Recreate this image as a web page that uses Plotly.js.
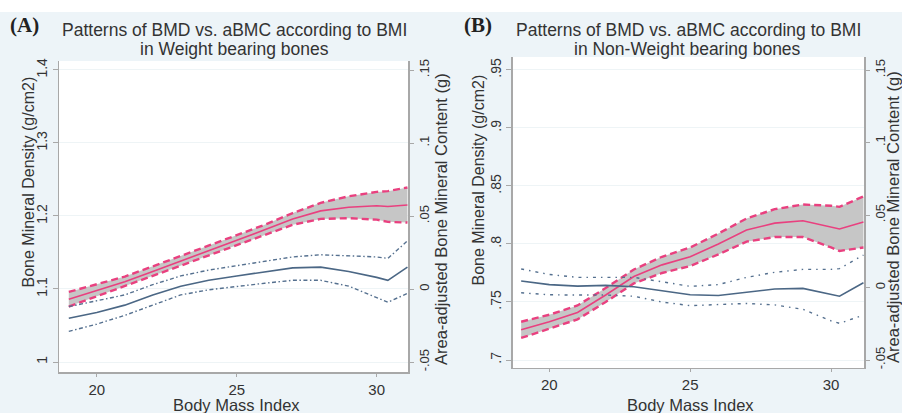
<!DOCTYPE html>
<html>
<head>
<meta charset="utf-8">
<script src="https://cdn.plot.ly/plotly-3.0.1.min.js"></script>
<style>html,body{margin:0;padding:0;background:#edf4f8;}#chart{width:902px;height:413px;}</style>
</head>
<body>
<div id="chart"></div>
<script>
// Shared BMI grid (x values)
const bmiA = [19, 20, 21, 22, 23, 24, 25, 26, 27, 28, 29, 30, 30.4, 31.1];
const bmiB = [19, 20, 21, 22, 23, 24, 25, 26, 27, 28, 29, 30, 30.3, 31.15];

// Panel A: Weight bearing bones
const bmdA      = [1.086, 1.098, 1.110, 1.124, 1.138, 1.153, 1.167, 1.181, 1.196, 1.207, 1.212, 1.214, 1.213, 1.215];
const bmdA_up   = [1.096, 1.106, 1.117, 1.131, 1.145, 1.160, 1.174, 1.188, 1.204, 1.218, 1.227, 1.233, 1.234, 1.239];
const bmdA_lo   = [1.076, 1.090, 1.103, 1.117, 1.131, 1.146, 1.160, 1.174, 1.188, 1.196, 1.197, 1.195, 1.192, 1.191];
const bmcA      = [-0.020, -0.016, -0.011, -0.004, 0.002, 0.006, 0.009, 0.012, 0.0145, 0.015, 0.012, 0.008, 0.006, 0.015];
const bmcA_up   = [-0.012, -0.008, -0.004, 0.003, 0.009, 0.013, 0.016, 0.019, 0.022, 0.0235, 0.023, 0.022, 0.021, 0.033];
const bmcA_lo   = [-0.029, -0.024, -0.018, -0.011, -0.004, -0.0005, 0.002, 0.004, 0.006, 0.006, 0.002, -0.006, -0.009, -0.003];

// Panel B: Non-Weight bearing bones
const bmdB      = [0.726, 0.733, 0.741, 0.756, 0.772, 0.782, 0.789, 0.800, 0.812, 0.818, 0.820, 0.815, 0.813, 0.819];
const bmdB_up   = [0.733, 0.739, 0.747, 0.762, 0.778, 0.789, 0.797, 0.809, 0.822, 0.830, 0.834, 0.833, 0.832, 0.841];
const bmdB_lo   = [0.719, 0.727, 0.735, 0.750, 0.766, 0.775, 0.781, 0.791, 0.802, 0.806, 0.806, 0.797, 0.794, 0.797];
const bmcB      = [0.0045, 0.002, 0.001, 0.0015, 0.0005, -0.002, -0.005, -0.0055, -0.003, -0.001, -0.0006, -0.005, -0.006, 0.0033];
const bmcB_up   = [0.0128, 0.009, 0.007, 0.007, 0.007, 0.004, 0.0008, 0.002, 0.007, 0.0105, 0.0125, 0.0125, 0.013, 0.0224];
const bmcB_lo   = [-0.0036, -0.005, -0.0052, -0.0052, -0.006, -0.010, -0.0125, -0.012, -0.011, -0.012, -0.015, -0.023, -0.0247, -0.019];

// Tick labels
const xTicks = [20, 25, 30];
const yA_vals = [1, 1.1, 1.2, 1.3, 1.4];
const yA_text = ['1', '1.1', '1.2', '1.3', '1.4'];
const yB_vals = [0.7, 0.75, 0.8, 0.85, 0.9, 0.95];
const yB_text = ['.7', '.75', '.8', '.85', '.9', '.95'];
const r_vals = [-0.05, 0, 0.05, 0.1, 0.15];
const r_text = ['-.05', '0', '.05', '.1', '.15'];

// Text
const panelTags = ['(A)', '(B)'];
const titleLine1 = 'Patterns of BMD vs. aBMC according to BMI';
const titleLine2 = ['in Weight bearing bones', 'in Non-Weight bearing bones'];
const xTitle = 'Body Mass Index';
const yLeftTitle = 'Bone Mineral Density (g/cm2)';
const yRightTitle = 'Area-adjusted Bone Mineral Content (g)';

const PINK = '#e9407f';
const BLUE = '#4b6785';
const BLUE_CI = '#55708f';
const GRAYFILL = '#c6c6c6';

function panel(x, mid, up, lo, bmc, bup, blo, xa, ya, ya2, ciDash) {
  return [
    {x: x, y: lo, xaxis: xa, yaxis: ya, mode: 'lines', line: {color: PINK, width: 2.4, dash: '7px,4px'}, hoverinfo: 'skip'},
    {x: x, y: up, xaxis: xa, yaxis: ya, mode: 'lines', fill: 'tonexty', fillcolor: GRAYFILL, line: {color: PINK, width: 2.4, dash: '7px,4px'}, hoverinfo: 'skip'},
    {x: x, y: mid, xaxis: xa, yaxis: ya, mode: 'lines', line: {color: PINK, width: 1.6}},
    {x: x, y: bup, xaxis: xa, yaxis: ya2, mode: 'lines', line: {color: BLUE_CI, width: 1.4, dash: ciDash}},
    {x: x, y: blo, xaxis: xa, yaxis: ya2, mode: 'lines', line: {color: BLUE_CI, width: 1.4, dash: ciDash}},
    {x: x, y: bmc, xaxis: xa, yaxis: ya2, mode: 'lines', line: {color: BLUE, width: 1.6}}
  ];
}

const data = [].concat(
  panel(bmiA, bmdA, bmdA_up, bmdA_lo, bmcA, bmcA_up, bmcA_lo, 'x', 'y', 'y2', '4px,2.5px,1.5px,2.5px'),
  panel(bmiB, bmdB, bmdB_up, bmdB_lo, bmcB, bmcB_up, bmcB_lo, 'x2', 'y3', 'y4', '3px,5px,1.5px,5px')
);

const FAM = 'Liberation Sans, Arial, sans-serif';
const AXLINE = '#a8a8a8';
const GRID = '#eef4f6';
const TXT = '#333333';

// pixel -> paper helpers (margins l=r=0, t=57, b=41)
const T = 57, B = 41, H = 413, W = 902;
const px = v => v / W;
const py = v => (H - B - v) / (H - T - B);

function xaxis(domain, range, anchor) {
  return {domain: domain, range: range, anchor: anchor, tickvals: xTicks, ticks: 'outside', ticklen: 3,
    tickcolor: AXLINE, showline: true, linecolor: AXLINE, linewidth: 1.5, showgrid: false, zeroline: false,
    tickfont: {family: FAM, size: 15, color: TXT}};
}
function yleft(domain, range, anchor, vals, text) {
  return {domain: domain, range: range, anchor: anchor, tickvals: vals, ticktext: text, tickangle: -90,
    ticks: 'outside', ticklen: 5, tickcolor: AXLINE, showline: true, linecolor: AXLINE, linewidth: 1.5,
    showgrid: true, gridcolor: GRID, zeroline: false, tickfont: {family: FAM, size: 14, color: TXT}};
}
function yright(domain, range, anchor, over) {
  return {domain: domain, range: range, anchor: anchor, overlaying: over, side: 'right', tickvals: r_vals, ticktext: r_text,
    tickangle: -90, ticks: 'outside', ticklen: 4, tickcolor: AXLINE, showline: true, linecolor: AXLINE, linewidth: 1.5,
    showgrid: false, zeroline: false, tickfont: {family: FAM, size: 13, color: TXT}};
}

function ann(text, x, y, opts) {
  return Object.assign({text: text, xref: 'paper', yref: 'paper', x: px(x), y: py(y), xanchor: 'center', yanchor: 'middle',
    showarrow: false, font: {family: FAM, size: 17, color: TXT}}, opts || {});
}

const annotations = [
  ann('<b>' + panelTags[0] + '</b>', 8, 25, {xanchor: 'left', font: {family: 'Liberation Serif, Times New Roman, serif', size: 21, color: '#222'}}),
  ann('<b>' + panelTags[1] + '</b>', 462, 25, {xanchor: 'left', font: {family: 'Liberation Serif, Times New Roman, serif', size: 21, color: '#222'}}),
  ann(titleLine1, 234.5, 30, {font: {family: FAM, size: 17.5, color: TXT}}),
  ann(titleLine2[0], 234.5, 49, {font: {family: FAM, size: 17.5, color: TXT}}),
  ann(titleLine1, 688, 30, {font: {family: FAM, size: 17.5, color: TXT}}),
  ann(titleLine2[1], 687, 49, {font: {family: FAM, size: 17.5, color: TXT}}),
  ann(xTitle, 236, 405, {font: {family: FAM, size: 16.5, color: TXT}}),
  ann(xTitle, 690, 405, {font: {family: FAM, size: 16.5, color: TXT}}),
  ann(yLeftTitle, 27.5, 182, {textangle: -90, font: {family: FAM, size: 16, color: TXT}}),
  ann(yLeftTitle, 477.5, 180, {textangle: -90, font: {family: FAM, size: 16, color: TXT}}),
  ann(yRightTitle, 441, 219, {textangle: -90, font: {family: FAM, size: 16.5, color: TXT}}),
  ann(yRightTitle, 893, 217, {textangle: -90, font: {family: FAM, size: 16.5, color: TXT}})
];

const layout = {
  width: W, height: H,
  margin: {l: 0, r: 0, t: T, b: B, autoexpand: false},
  paper_bgcolor: '#edf4f8', plot_bgcolor: '#ffffff',
  showlegend: false,
  font: {family: FAM, size: 14, color: TXT},
  xaxis: xaxis([59/902, 408/902], [18.65, 31.12], 'y'),
  yaxis: yleft([0, 0.9873], [0.9863, 1.4123], 'x', yA_vals, yA_text),
  yaxis2: yright([0, 0.9873], [-0.0568, 0.1562], 'x', 'y'),
  xaxis2: xaxis([512.7/902, 864.3/902], [18.7, 31.18], 'y3'),
  yaxis3: yleft([0.0127, 1], [0.6931, 0.9612], 'x2', yB_vals, yB_text),
  yaxis4: yright([0.0127, 1], [-0.0555, 0.159], 'x2', 'y3'),
  shapes: [
    {type: 'rect', xref: 'paper', yref: 'paper', x0: -0.01, x1: 1.01, y0: py(12), y1: py(-5), fillcolor: '#ffffff', line: {width: 0}, layer: 'below'}
  ],
  annotations: annotations
};

Plotly.newPlot('chart', data, layout, {displayModeBar: false, staticPlot: true});
</script>
</body>
</html>
